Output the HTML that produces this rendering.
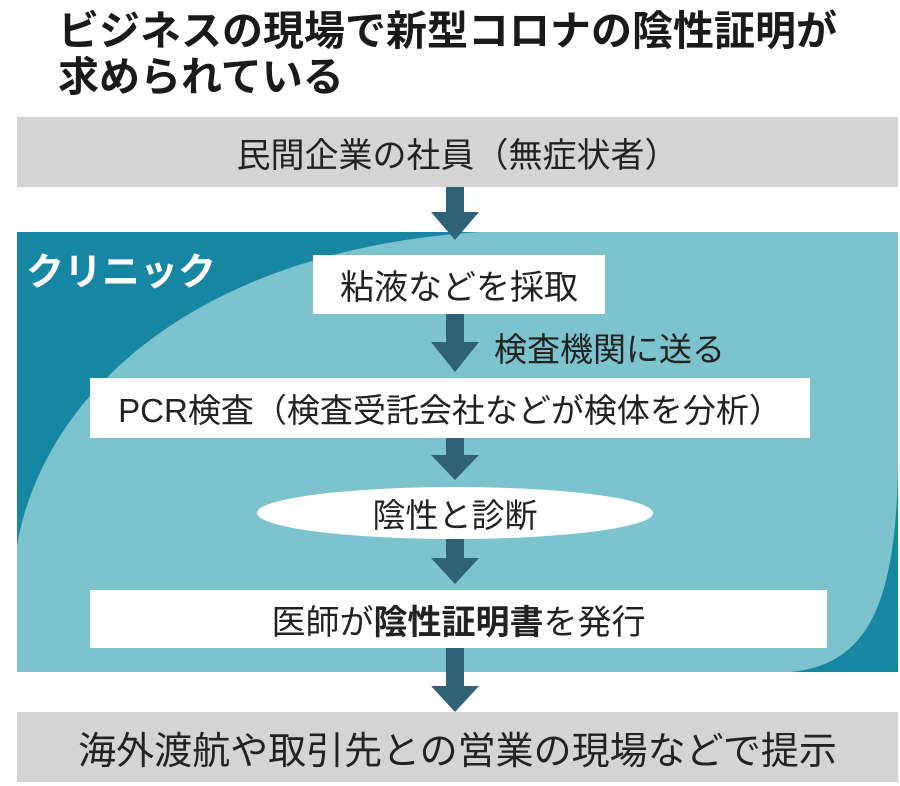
<!DOCTYPE html>
<html><head><meta charset="utf-8"><style>
body{margin:0;width:900px;height:786px;background:#fff;overflow:hidden;font-family:"Liberation Sans","Noto Sans CJK JP",sans-serif;}
.t{position:absolute;left:58px;font-weight:bold;font-size:41px;line-height:46px;color:#1a1a1a;}
.box{position:absolute;background:#fff;display:flex;align-items:center;justify-content:center;color:#222;font-size:33px;white-space:nowrap;}
</style></head><body>
<div class="t" style="top:8px">ビジネスの現場で新型コロナの陰性証明が<br>求められている</div>
<svg style="position:absolute;left:0;top:0" width="900" height="786">
<rect x="17" y="117" width="881" height="70" fill="#d4d4d4"/>
<rect x="17" y="232" width="881" height="440" fill="#1786a2"/>
<path d="M17 545 C45 390 200 250 480 232 L898 232 L898 470 C895 600 870 665 790 672 L17 672 Z" fill="#7cc3cd"/>
<rect x="17" y="712" width="881" height="70" fill="#d4d4d4"/>
<g fill="#2f6277">
<rect x="446" y="187" width="18" height="26"/><polygon points="431,212 479,212 455,240"/>
<rect x="446" y="314" width="18" height="30"/><polygon points="431,342 479,342 455,372"/>
<rect x="446" y="438" width="18" height="18"/><polygon points="431,455 479,455 455,480"/>
<rect x="446" y="538" width="18" height="22"/><polygon points="431,558 479,558 455,584"/>
<rect x="446" y="648" width="18" height="40"/><polygon points="431,686 479,686 455,712"/>
</g>
<ellipse cx="455" cy="513" rx="198" ry="26" fill="#fff"/>
</svg>
<div class="box" style="left:17px;top:117px;width:881px;height:70px;background:transparent;font-size:34px">民間企業の社員（無症状者）</div>
<div style="position:absolute;left:26px;top:241px;color:#fff;font-weight:bold;font-size:38px">クリニック</div>
<div class="box" style="left:313px;top:255px;width:292px;height:59px;font-size:34px">粘液などを採取</div>
<div style="position:absolute;left:494px;top:323px;font-size:33px;color:#222">検査機関に送る</div>
<div class="box" style="left:90px;top:378px;width:720px;height:60px">PCR検査（検査受託会社などが検体を分析）</div>
<div class="box" style="left:257px;top:487px;width:396px;height:52px;background:transparent">陰性と診断</div>
<div class="box" style="left:90px;top:590px;width:737px;height:58px;font-size:34px">医師が<b>陰性証明書</b>を発行</div>
<div class="box" style="left:17px;top:712px;width:881px;height:70px;background:transparent;font-size:38px">海外渡航や取引先との営業の現場などで提示</div>
</body></html>
